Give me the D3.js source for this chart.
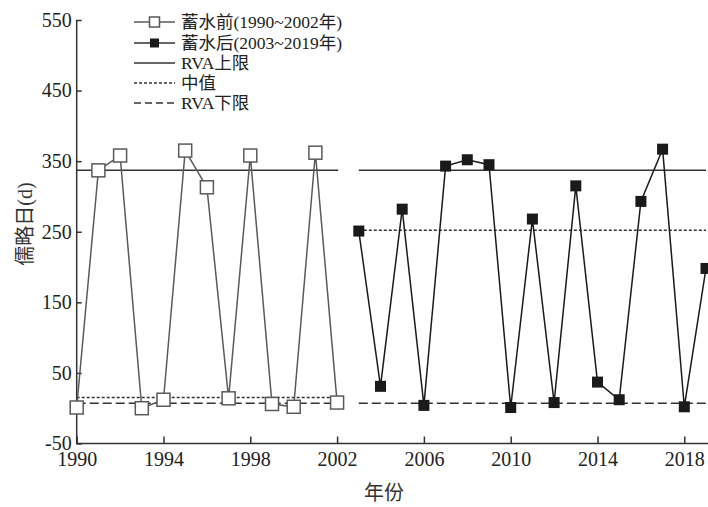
<!DOCTYPE html>
<html>
<head>
<meta charset="utf-8">
<script src="https://cdn.jsdelivr.net/npm/d3@7"></script>
<style>
  body { margin: 0; background: #fff; }
  svg { display: block; }
  .axis path, .axis line { stroke: #333; stroke-width: 1.5; }
</style>
</head>
<body>
<svg id="chart"></svg>
<script>
//
// data
var preYears = [1990, 1991, 1992, 1993, 1994, 1995, 1996, 1997, 1998, 1999, 2000, 2001, 2002],
    preValues = [1, 337, 358, 0, 12, 365, 313, 14, 358, 6, 2, 362, 8],
    postYears = [2003, 2004, 2005, 2006, 2007, 2008, 2009, 2010, 2011, 2012, 2013, 2014, 2015, 2016, 2017, 2018, 2019],
    postValues = [251, 31, 282, 4, 343, 352, 345, 1, 268, 8, 315, 37, 12, 293, 367, 2, 198],
    periodStart = [1990, 2003],
    periodEnd = [2002.05, 2019],
    rvaUpper = [337, 337],
    rvaMedian = [15, 252],
    rvaLower = [7, 7],
    yTicks = [-50, 50, 150, 250, 350, 450, 550],
    xTicks = [1990, 1994, 1998, 2002, 2006, 2010, 2014, 2018],
    legendLabels = ['蓄水前(1990~2002年)', '蓄水后(2003~2019年)', 'RVA上限', '中值', 'RVA下限'];

var width = 708, height = 507,
    serif = '"Liberation Serif", "Noto Sans CJK SC", serif',
    preColor = '#5a5a5a', postColor = '#1a1a1a', rvaColor = '#333', textColor = '#222',
    plain = function(d) { return String(d); },
    svg = d3.select('#chart').attr('width', width).attr('height', height)
      .style('font-family', serif);

var x = d3.scaleLinear().domain([1990, 2019]).range([76.7, 706]),
    y = d3.scaleLinear().domain([-50, 550]).range([443.5, 20]);

var styleTicks = function(g) {
  g.select('.domain').remove();
  g.selectAll('text')
    .style('font-family', serif)
    .style('font-size', '20px')
    .style('fill', textColor);
};

//
// axes (ticks point inward)
svg.append('g').attr('class', 'axis')
  .attr('transform', 'translate(' + x(1990) + ',0)')
  .call(d3.axisLeft(y).tickValues(yTicks).tickFormat(plain)
    .tickSize(-5).tickSizeOuter(0).tickPadding(5))
  .call(styleTicks);

svg.append('g').attr('class', 'axis')
  .attr('transform', 'translate(0,' + y(-50) + ')')
  .call(d3.axisBottom(x).tickValues(xTicks).tickFormat(plain)
    .tickSize(-7).tickSizeOuter(0).tickPadding(8))
  .call(styleTicks);

svg.append('line')
  .attr('x1', x(1990)).attr('x2', x(1990))
  .attr('y1', y(550)).attr('y2', y(-50))
  .attr('stroke', '#333').attr('stroke-width', 1.5);
svg.append('line')
  .attr('x1', x(1990) - 0.75).attr('x2', width)
  .attr('y1', y(-50)).attr('y2', y(-50))
  .attr('stroke', '#333').attr('stroke-width', 1.5);

svg.append('text')
  .attr('transform', 'translate(25,224) rotate(-90)')
  .attr('text-anchor', 'middle').attr('dy', '0.35em')
  .style('font-size', '20px').style('fill', '#333')
  .text('儒略日(d)');

svg.append('text')
  .attr('x', 384).attr('y', 500)
  .attr('text-anchor', 'middle')
  .style('font-size', '20px').style('fill', '#333')
  .text('年份');

//
// RVA lines for each period
var rvaStyles = [
  { values: rvaUpper, dash: null },
  { values: rvaMedian, dash: '3,2' },
  { values: rvaLower, dash: '9,4' }
];
rvaStyles.forEach(function(s) {
  svg.selectAll(null).data([0, 1]).enter()
    .append('line')
      .attr('x1', function(i) { return x(periodStart[i]); })
      .attr('x2', function(i) { return x(periodEnd[i]); })
      .attr('y1', function(i) { return y(s.values[i]); })
      .attr('y2', function(i) { return y(s.values[i]); })
      .attr('stroke', rvaColor)
      .attr('stroke-width', 1.5)
      .attr('stroke-dasharray', s.dash);
});

//
// series
var line = d3.line().x(function(d) { return x(d[0]); }).y(function(d) { return y(d[1]); }),
    preData = d3.zip(preYears, preValues),
    postData = d3.zip(postYears, postValues);

svg.append('path').datum(preData)
  .attr('d', line).attr('fill', 'none')
  .attr('stroke', preColor).attr('stroke-width', 1.5);
svg.selectAll('rect.pre').data(preData).enter()
  .append('rect').attr('class', 'pre')
    .attr('x', function(d) { return x(d[0]) - 6.5; })
    .attr('y', function(d) { return y(d[1]) - 6.5; })
    .attr('width', 13).attr('height', 13)
    .attr('fill', '#fff').attr('stroke', preColor).attr('stroke-width', 1.5);

svg.append('path').datum(postData)
  .attr('d', line).attr('fill', 'none')
  .attr('stroke', postColor).attr('stroke-width', 1.5);
svg.selectAll('rect.post').data(postData).enter()
  .append('rect').attr('class', 'post')
    .attr('x', function(d) { return x(d[0]) - 5.5; })
    .attr('y', function(d) { return y(d[1]) - 5.5; })
    .attr('width', 11).attr('height', 11)
    .attr('fill', postColor);

//
// legend
var legendRows = [22, 43, 63, 83, 103],
    legend = svg.append('g').attr('class', 'legend'),
    rows = legend.selectAll('g').data(legendLabels).enter()
      .append('g').attr('transform', function(d, i) { return 'translate(134,' + legendRows[i] + ')'; });

rows.append('line')
  .attr('x1', 0).attr('x2', 41)
  .attr('stroke', function(d, i) { return i === 0 ? preColor : rvaColor; })
  .attr('stroke-width', 1.5)
  .attr('stroke-dasharray', function(d, i) { return i === 3 ? '3,2' : i === 4 ? '7,4' : null; });
rows.filter(function(d, i) { return i === 0; }).append('rect')
  .attr('x', 15.5).attr('y', -5).attr('width', 10).attr('height', 10)
  .attr('fill', '#fff').attr('stroke', preColor).attr('stroke-width', 1.5);
rows.filter(function(d, i) { return i === 1; }).append('rect')
  .attr('x', 16).attr('y', -4.5).attr('width', 9).attr('height', 9)
  .attr('fill', postColor);
rows.append('text')
  .attr('x', 47).attr('dy', '0.35em')
  .style('font-size', '17.5px').style('fill', textColor)
  .text(function(d) { return d; });
</script>
</body>
</html>
